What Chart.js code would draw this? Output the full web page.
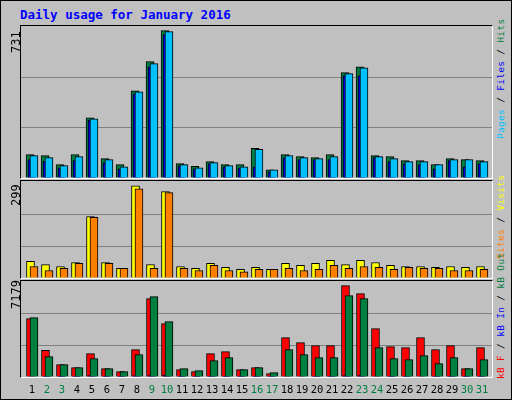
<!DOCTYPE html>
<html><head><meta charset="utf-8">
<script src="https://cdn.jsdelivr.net/npm/chart.js@4"></script>
<style>
body{margin:0;background:#fff}
#wrap{position:relative;width:510px;height:398px;background:#C0C0C0;border:1px solid #000;overflow:hidden}
.box{position:absolute;left:19px;width:471px;border-top:1px solid #000;border-left:1px solid #000;border-bottom:1px solid #fff;border-right:1px solid #fff}
canvas{position:absolute}
.t{position:absolute;font-family:"DejaVu Sans Mono",monospace;font-size:12px;white-space:nowrap}
.rot{transform-origin:0 0;transform:rotate(-90deg)}
.leg{font-size:9.5px;letter-spacing:0.3px}
</style></head><body>
<div id="wrap">
<div class="t" style="left:19px;top:6px;color:#0000FF;font-weight:bold;font-size:12.5px">Daily usage for January 2016</div>
<div class="box" style="top:24px;height:152px"></div>
<div class="box" style="top:179px;height:97px"></div>
<div class="box" style="top:279px;height:96px"></div>
<canvas id="c1" width="471" height="151" style="left:20px;top:26px"></canvas>
<canvas id="c2" width="471" height="96" style="left:20px;top:181px"></canvas>
<canvas id="c3" width="471" height="95" style="left:20px;top:281px"></canvas>
<div class="t rot" style="left:8px;top:52px">731</div>
<div class="t rot" style="left:8px;top:205px">299</div>
<div class="t rot" style="left:8px;top:308px">7179</div>
<div class="t rot leg" style="left:494px;top:138px"><span style="color:#00C0FF">Pages</span> / <span style="color:#0000FF">Files</span> / <span style="color:#008040">Hits</span></div>
<div class="t rot leg" style="left:494px;top:258px"><span style="color:#FF8000">Sites</span> / <span style="color:#FFFF00">Visits</span></div>
<div class="t rot leg" style="left:494px;top:378px"><span style="color:#FF0000">kB F</span> / <span style="color:#0000FF">kB In</span> / <span style="color:#008040">kB Out</span></div>
<div id="days"></div>
</div>
<script>
const days = [1,2,3,4,5,6,7,8,9,10,11,12,13,14,15,16,17,18,19,20,21,22,23,24,25,26,27,28,29,30,31];
const weekend = [2,3,9,10,16,17,23,24,30,31];
const hits  = [116,111,66,116,299,96,66,433,577,731,71,58,81,66,66,147,41,116,106,101,116,523,552,111,106,86,86,66,96,91,86];
const files = [91,83,51,86,286,76,46,418,552,711,61,46,71,56,51,56,31,101,91,91,91,508,508,101,81,71,66,46,86,56,71];
const pages = [111,101,61,106,294,91,56,428,567,726,66,51,76,61,56,142,41,111,101,96,106,518,547,106,96,81,81,66,91,91,81];
const visits = [54,43,37,50,198,50,31,297,43,278,37,31,47,34,28,34,28,47,41,47,57,43,57,50,41,37,37,34,37,34,37];
const sites  = [37,24,31,47,195,47,31,287,31,275,31,24,41,24,20,28,28,31,24,28,41,31,37,34,28,34,31,31,24,24,28];
const kbF   = [4585,2096,969,734,1834,655,419,2148,6157,4192,576,419,1834,1991,576,734,262,3092,2699,2463,2463,7179,6550,3799,2384,2306,3092,2148,2463,655,2306];
const kbIn  = [40,20,15,15,120,15,10,120,120,150,15,10,25,25,10,10,5,40,40,30,30,120,120,40,30,30,40,30,30,10,30];
const kbOut = [4664,1598,969,734,1441,655,419,1755,6314,4349,655,498,1284,1520,576,734,341,2148,1755,1520,1520,6393,6157,2306,1441,1362,1677,1048,1520,655,1362];

const dl = document.getElementById('days');
days.forEach(d=>{const e=document.createElement('div');e.className='t';e.textContent=d;
 e.style.left=(16+15*d-10)+'px';e.style.width='20px';e.style.textAlign='center';e.style.top='382px';e.style.fontSize='10.5px';
 e.style.color=weekend.includes(d)?'#008040':'#000';dl.appendChild(e);});

function ds(vals,off,color,order){return {data:vals.map((v,i)=>({x:days[i]+off,y:v})),backgroundColor:color,
 borderColor:'#000',borderWidth:1,barThickness:8,grouped:false,order:order,borderSkipped:'bottom'};}
function make(id,sets,ymax){
 new Chart(document.getElementById(id),{type:'bar',data:{datasets:sets},
 options:{responsive:false,animation:false,devicePixelRatio:1,layout:{padding:0},
  plugins:{legend:{display:false},tooltip:{enabled:false}},
  scales:{x:{type:'linear',min:0.267,max:31.667,offset:false,bounds:'ticks',display:false},
   y:{min:0,max:ymax,display:true,border:{display:false},ticks:{display:false},
    afterBuildTicks:s=>{s.ticks=[{value:0},{value:ymax/3},{value:2*ymax/3},{value:ymax}];},
    grid:{drawTicks:false,color:c=>(c.index==1||c.index==2)?'#808080':'rgba(0,0,0,0)',lineWidth:1}}}}});}
make('c1',[ds(hits,-0.13,'#008040',3),ds(files,0,'#0000FF',2),ds(pages,0.13,'#00C0FF',1)],749);
make('c2',[ds(visits,-0.1,'#FFFF00',2),ds(sites,0.13,'#FF8000',1)],309);
make('c3',[ds(kbF,-0.1,'#FF0000',3),ds(kbIn,-0.02,'#0000FF',2),ds(kbOut,0.13,'#008040',1)],7462);
</script></body></html>
